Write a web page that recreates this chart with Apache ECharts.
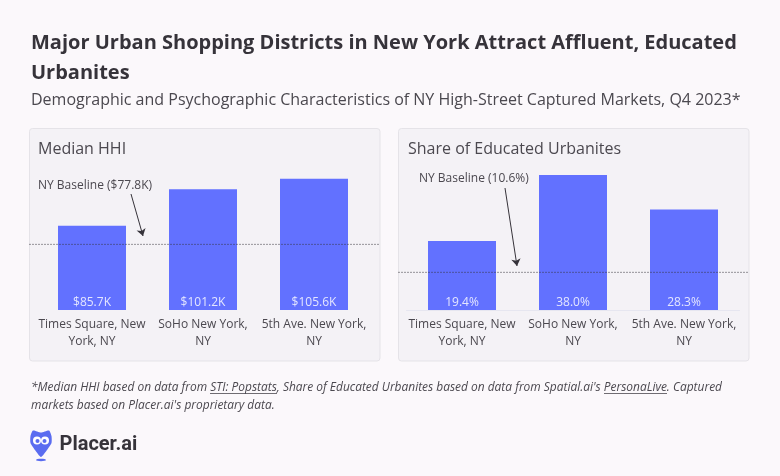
<!DOCTYPE html>
<html lang="en">

<head>
  <meta charset="UTF-8">
  <title>Major Urban Shopping Districts</title>
  <style>
    html, body { margin: 0; padding: 0; background: #fbf8fb; }
    #main { width: 780px; height: 476px; }
  </style>
</head>

<body>
  <div id="main"></div>
  <script src="https://cdn.jsdelivr.net/npm/echarts@6/dist/echarts.min.js"></script>
  <script type="text/javascript">
    var categories = ['Times Square, New\nYork, NY', 'SoHo New York,\nNY', '5th Ave. New York,\nNY'];
    var hhiValues = [85.7, 101.2, 105.6];
    var eduValues = [19.4, 38.0, 28.3];
    var hhiBaseline = 77.8;
    var eduBaseline = 10.6;

    var FONT = '"Open Sans", "Noto Sans", sans-serif';
    var INK = '#36333a';
    var TEXT = '#4b484f';
    var BAR = '#6271ff';
    var LOGO = '#5a6cf0';

    function txt(x, y, text, size, extra) {
      var style = { x: x, y: y, text: text, fill: TEXT, fontFamily: FONT, fontSize: size, verticalAlign: 'middle' };
      for (var k in extra) style[k] = extra[k];
      return { type: 'text', style: style };
    }
    function panel(x, y, w, h) {
      return {
        type: 'rect', z: -10,
        shape: { x: x, y: y, width: w, height: h, r: 3 },
        style: { fill: '#f4f2f6', stroke: '#e5e3e8', lineWidth: 1 }
      };
    }
    function underline(x1, x2, y) {
      return { type: 'line', shape: { x1: x1, y1: y, x2: x2, y2: y }, style: { stroke: TEXT, lineWidth: 0.8 } };
    }

    var graphics = [
      panel(29.5, 128.5, 350.5, 232.5),
      panel(398.5, 128.5, 350.5, 232.5),
      txt(31, 43, 'Major Urban Shopping Districts in New York Attract Affluent, Educated', 20, { fill: INK, fontWeight: 'bold' }),
      txt(31, 73, 'Urbanites', 20, { fill: INK, fontWeight: 'bold' }),
      txt(31, 100.5, 'Demographic and Psychographic Characteristics of NY High-Street Captured Markets, Q4 2023*', 16, {}),
      txt(38, 149, 'Median HHI', 16, {}),
      txt(408, 149, 'Share of Educated Urbanites', 16, {}),
      txt(38, 185.5, 'NY Baseline ($77.8K)', 12, {}),
      txt(419, 178.5, 'NY Baseline (10.6%)', 12, {}),
      txt(31, 387.5, "*Median HHI based on data from STI: Popstats, Share of Educated Urbanites based on data from Spatial.ai's PersonaLive. Captured", 11.95, { fontStyle: 'italic' }),
      txt(31, 406, "markets based on Placer.ai's proprietary data.", 11.95, { fontStyle: 'italic' }),
      underline(210, 277, 393.5),
      underline(604, 667, 393.5),
      // logo
      {
        type: 'polygon',
        shape: {
          points: [[33, 430.5], [41, 432.5], [49, 430.5], [51.5, 436], [51.5, 443], [47, 450], [41, 457], [35, 450], [30.5, 443], [30.5, 436]],
          smooth: 0.2
        },
        style: { fill: LOGO }
      },
      { type: 'circle', shape: { cx: 37, cy: 440.5, r: 4 }, style: { fill: '#fff' } },
      { type: 'circle', shape: { cx: 45, cy: 440.5, r: 4 }, style: { fill: '#fff' } },
      { type: 'circle', shape: { cx: 37.5, cy: 441, r: 2 }, style: { fill: LOGO } },
      { type: 'circle', shape: { cx: 44.5, cy: 441, r: 2 }, style: { fill: LOGO } },
      { type: 'ellipse', shape: { cx: 41, cy: 460, rx: 5, ry: 1.2 }, style: { fill: LOGO } },
      txt(59.5, 445, 'Placer.ai', 20, { fill: INK, fontFamily: 'Roboto, sans-serif', fontWeight: 'bold' })
    ];

    function barSeries(idx, values, fmt) {
      return {
        type: 'bar', xAxisIndex: idx, yAxisIndex: idx,
        data: values, barWidth: 68,
        itemStyle: { color: BAR },
        label: {
          show: true, position: 'insideBottom', distance: 1,
          color: '#e4e6ff', fontFamily: FONT, fontSize: 12,
          formatter: function (p) { return fmt(p.value); }
        }
      };
    }
    function baselineSeries(idx, value, arrow) {
      return {
        type: 'line', xAxisIndex: idx, yAxisIndex: idx, z: 5,
        data: [[0, value], [1, value]],
        symbol: 'none', silent: true,
        lineStyle: { color: '#36333a', width: 1, type: [1, 2] },
        markLine: {
          silent: true, symbol: ['none', 'arrow'], symbolSize: 7,
          label: { show: false },
          lineStyle: { color: '#36333a', width: 1, type: 'solid' },
          data: [[{ x: arrow[0], y: arrow[1] }, { x: arrow[2], y: arrow[3] }]]
        }
      };
    }
    function catAxis(idx, lineColor) {
      return {
        type: 'category', gridIndex: idx, data: categories,
        axisLine: { show: !!lineColor, lineStyle: { color: lineColor } }, axisTick: { show: false },
        axisLabel: { color: TEXT, fontFamily: FONT, fontSize: 12, lineHeight: 17, margin: 6, interval: 0 }
      };
    }
    function hiddenX(idx) {
      return { type: 'value', gridIndex: idx, min: 0, max: 1, show: false };
    }
    function valAxis(idx, min, max) {
      return { type: 'value', gridIndex: idx, min: min, max: max, show: false };
    }

    var myChart = echarts.init(document.getElementById('main'), null, { renderer: 'canvas' });
    myChart.setOption({
      backgroundColor: '#fbf8fb',
      animation: false,
      graphic: graphics,
      grid: [
        { left: 36.5, width: 333, top: 177.8, height: 132.2 },
        { left: 406.5, width: 333, top: 175, height: 135 },
        { left: 29.5, width: 350.5, top: 177.8, height: 132.2 },
        { left: 398.5, width: 350.5, top: 175, height: 135 }
      ],
      xAxis: [catAxis(0), catAxis(1, '#e6e6f0'), hiddenX(2), hiddenX(3)],
      yAxis: [valAxis(0, 50, 106), valAxis(1, 0, 38), valAxis(2, 50, 106), valAxis(3, 0, 38)],
      series: [
        barSeries(0, hhiValues, function (v) { return '$' + v.toFixed(1) + 'K'; }),
        barSeries(1, eduValues, function (v) { return v.toFixed(1) + '%'; }),
        baselineSeries(2, hhiBaseline, [131, 194, 143, 236]),
        baselineSeries(3, eduBaseline, [505, 188, 517, 266])
      ]
    });
  </script>
</body>

</html>
